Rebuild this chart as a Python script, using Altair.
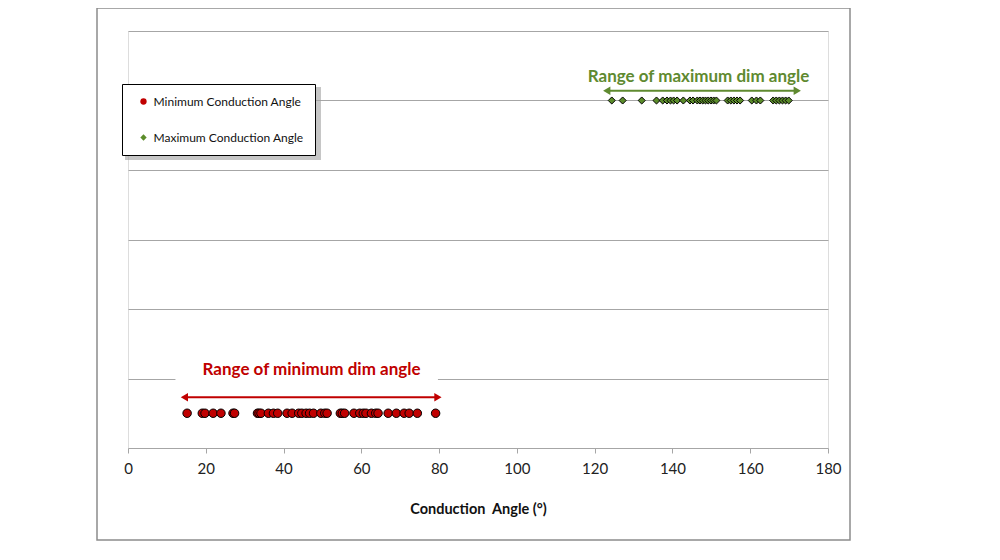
import altair as alt
import pandas as pd

FONT = "Lato"

# ---- data ----
min_angles = [15.2, 19.1, 19.8, 21.9, 23.9, 27.0, 27.4, 33.3, 33.7, 34.2, 36.1, 37.4,
              38.5, 40.9, 42.2, 43.9, 44.7, 45.8, 46.7, 47.7, 49.6, 50.6, 51.2, 54.6,
              55.1, 55.7, 58.1, 59.6, 60.5, 61.2, 62.6, 63.7, 64.3, 66.9, 69.0, 71.0,
              72.3, 74.4, 79.1]
max_angles = [124.4, 127.2, 132.1, 135.9, 137.5, 138.6, 139.5, 140.3, 141.2, 142.8,
              144.5, 145.3, 146.4, 147.1, 147.8, 148.5, 149.2, 149.9, 150.6, 151.3,
              154.2, 155.0, 155.8, 156.6, 157.4, 160.4, 161.6, 162.6, 165.9, 166.7,
              167.5, 168.3, 169.1, 169.9]
series_names = ["Minimum Conduction Angle", "Maximum Conduction Angle"]
series_level = [0.5, 5.0]
series_colors = ["#c00000", "#5b8c2a"]
series_shapes = ["circle", "diamond"]

x_ticks = [0, 20, 40, 60, 80, 100, 120, 140, 160, 180]
grid_levels = [1, 2, 3, 4, 5, 6]

ann_text = ["Range of minimum dim angle", "Range of maximum dim angle"]
ann_text_x = [47.2, 146.7]
ann_text_y = [1.12, 5.34]
ann_arrow_start = [14.5, 123.1]
ann_arrow_end = [79.7, 172.1]
ann_arrow_y = [0.73, 5.14]
ann_colors = ["#c00000", "#5f8a30"]

# ---- tables ----
pts = pd.DataFrame(
    [{"angle": a, "level": series_level[0], "series": series_names[0]} for a in min_angles]
    + [{"angle": a, "level": series_level[1], "series": series_names[1]} for a in max_angles]
)
ann = pd.DataFrame({
    "text": ann_text, "tx": ann_text_x, "ty": ann_text_y,
    "x1": ann_arrow_start, "x2": ann_arrow_end, "ay": ann_arrow_y, "col": ann_colors,
})
heads = pd.DataFrame(
    [{"x": s, "y": y, "col": c, "shape": "triangle-left"} for s, y, c in zip(ann_arrow_start, ann_arrow_y, ann_colors)]
    + [{"x": e, "y": y, "col": c, "shape": "triangle-right"} for e, y, c in zip(ann_arrow_end, ann_arrow_y, ann_colors)]
)
one = pd.DataFrame({"k": [0]})

xscale = alt.Scale(domain=[0, 180], nice=False)
yscale = alt.Scale(domain=[0, 6], nice=False)

# outer frame
frame = alt.Chart(one).mark_rect(fillOpacity=0, stroke="#8c8c8c", strokeWidth=1.5).encode(
    x=alt.value(-31), x2=alt.value(722), y=alt.value(-23), y2=alt.value(509)
)

base = alt.Chart(pts).mark_point(filled=True, opacity=1, stroke="black", strokeWidth=1).encode(
    x=alt.X("angle:Q", scale=xscale,
            axis=alt.Axis(values=x_ticks, grid=False, title="Conduction\u00a0 Angle (°)",
                          domainColor="#a6a6a6", tickColor="#a6a6a6", tickSize=5,
                          labelFontSize=15, labelColor="#222", labelPadding=8, labelFont=FONT,
                          labelFlush=False,
                          titleFont=FONT, titleFontSize=14.5, titleFontWeight="bold",
                          titleColor="#111", titlePadding=26)),
    y=alt.Y("level:Q", scale=yscale,
            axis=alt.Axis(values=grid_levels, grid=True, gridColor="#a6a6a6", labels=False,
                          ticks=False, domain=False, title=None)),
    color=alt.Color("series:N", scale=alt.Scale(domain=series_names, range=series_colors),
                    legend=alt.Legend(title=None, orient="none", legendX=-6, legendY=53,
                                      direction="vertical", padding=11.5, rowPadding=24,
                                      symbolOffset=4, labelOffset=4,
                                      labelFont=FONT, labelFontSize=12, labelColor="#111",
                                      fillColor="white", strokeColor="black",
                                      symbolSize=40, symbolStrokeWidth=0)),
    shape=alt.Shape("series:N", scale=alt.Scale(domain=series_names, range=series_shapes)),
    size=alt.Size("series:N", scale=alt.Scale(domain=series_names, range=[72, 50]), legend=None),
)

white_box = alt.Chart(one).mark_rect(fill="white").encode(
    x=alt.datum(12.2, scale=xscale), x2=alt.datum(79.7),
    y=alt.datum(0.9, scale=yscale), y2=alt.datum(1.4),
)

lines = alt.Chart(ann).mark_rule(strokeWidth=2).encode(
    x=alt.X("x1:Q", scale=xscale), x2="x2:Q",
    y=alt.Y("ay:Q", scale=yscale),
    color=alt.Color("col:N", scale=None),
)
arrowheads = alt.Chart(heads).mark_point(filled=True, size=70, opacity=1).encode(
    x=alt.X("x:Q", scale=xscale), y=alt.Y("y:Q", scale=yscale),
    shape=alt.Shape("shape:N", scale=None),
    color=alt.Color("col:N", scale=None),
)
labels = alt.Chart(ann).mark_text(font=FONT, fontSize=17, fontWeight="bold").encode(
    x=alt.X("tx:Q", scale=xscale), y=alt.Y("ty:Q", scale=yscale),
    text="text:N",
    color=alt.Color("col:N", scale=None),
)

shadow = alt.Chart(one).mark_rect(fill="#a0a0a0", opacity=0.6).encode(
    x=alt.value(-3), x2=alt.value(193), y=alt.value(56), y2=alt.value(129)
)

chart = alt.layer(frame, shadow, white_box, lines, arrowheads, labels, base).resolve_scale(
    color="independent", shape="independent"
).properties(
    width=700, height=417, autosize="none",
    padding={"left": 120, "top": 23, "right": 150, "bottom": 100},
).configure_view(stroke=None).configure(font=FONT)

chart.save("out.html", embed_options={"renderer": "svg", "actions": False})
